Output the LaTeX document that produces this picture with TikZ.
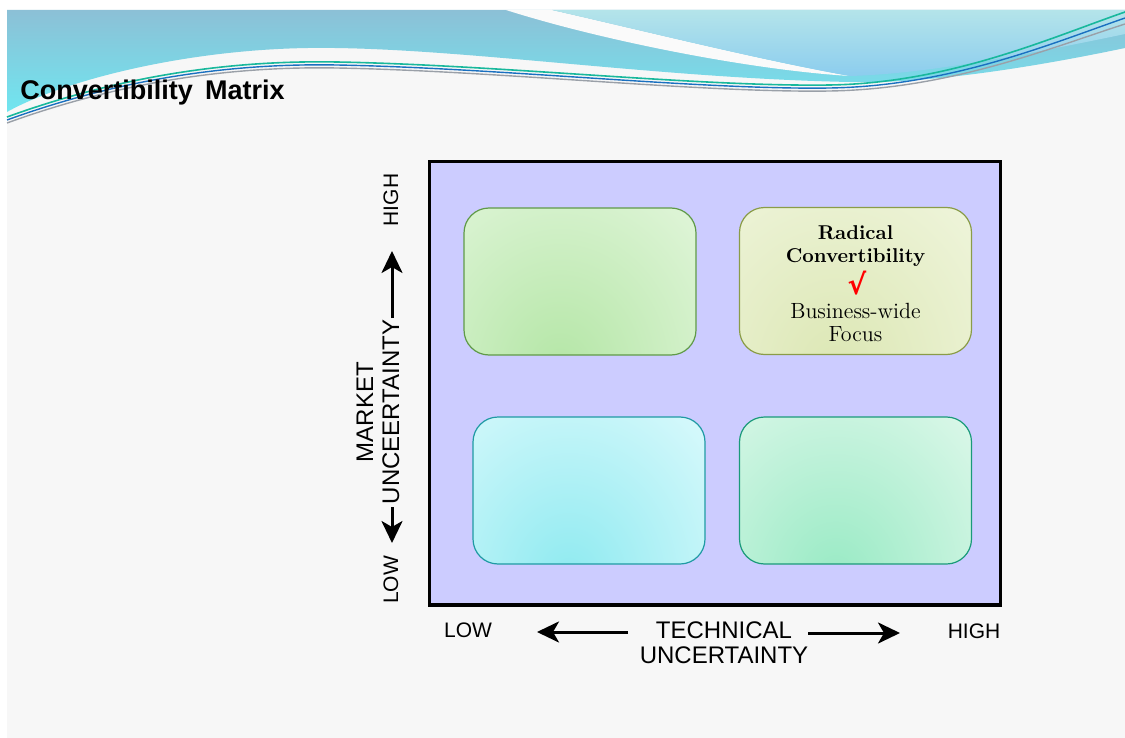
\documentclass[tikz,border=0pt]{standalone}
\usepackage{fontspec}
\newfontfamily\arialfont{Liberation Sans}
\newfontfamily\symfont{DejaVu Sans}
\usetikzlibrary{arrows.meta,calc}

\definecolor{slidebg}{HTML}{F7F7F7}
\definecolor{hdrtop}{HTML}{8CC0D6}
\definecolor{hdrbot}{HTML}{70E6F0}
\definecolor{lighttop}{HTML}{B4E4EA}
\definecolor{lightbot}{HTML}{8CCDEE}
\definecolor{swteal}{HTML}{18B89C}
\definecolor{swblue}{HTML}{1A70C0}
\definecolor{swgray}{HTML}{9AA0A8}
\definecolor{matfill}{HTML}{CCCCFF}
% quadrant colours: border, edge fill, centre fill
\definecolor{tlline}{HTML}{5F9A48}\definecolor{tledge}{HTML}{E8F8E2}\definecolor{tlcore}{HTML}{B4E6A6}
\definecolor{trline}{HTML}{8A9C48}\definecolor{tredge}{HTML}{F2F7E2}\definecolor{trcore}{HTML}{DCE7B4}
\definecolor{blline}{HTML}{1F9AA4}\definecolor{bledge}{HTML}{E6FCFE}\definecolor{blcore}{HTML}{8EEAF0}
\definecolor{brline}{HTML}{1A9A7A}\definecolor{bredge}{HTML}{E8FAF0}\definecolor{brcore}{HTML}{98EAC4}

\tikzset{
  quad/.style n args={3}{draw=#1, line width=0.6pt, rounded corners=12.5pt,
    minimum width=116pt, minimum height=73.5pt, inner sep=0pt, fill=#2,
    path picture={\shade[inner color=#3, outer color=#2]
      ($(path picture bounding box.south)+(-10pt,-8pt)$) ellipse (115pt and 135pt);}},
  axislabel/.style={font=\arialfont\fontsize{10.5}{12}\selectfont, inner sep=0pt},
  axisname/.style={font=\arialfont\fontsize{12}{13}\selectfont, inner sep=0pt, align=center},
  axisarrow/.style={line width=1.5pt, -{Stealth[length=11pt,width=10.5pt,inset=3pt]}},
  boxbold/.style={font=\bfseries\fontsize{10}{12}\selectfont, anchor=base, inner sep=0pt},
  boxtext/.style={font=\fontsize{11}{13}\selectfont, anchor=base, inner sep=0pt},
}

\begin{document}
\begin{tikzpicture}[x=0.5pt,y=-0.5pt]
\useasboundingbox (0,0) rectangle (1125,738);
\fill[white] (0,0) rectangle (1125,738);
\fill[slidebg] (7,10) rectangle (1125,738);

% header band
\shade[top color=hdrtop, bottom color=hdrbot]
  (7,10) -- (1125,10) -- (1125,48)
  .. controls (1020,70) and (920,84) .. (850,82)
  .. controls (650,78) and (450,46) .. (308,48)
  .. controls (180,50) and (60,82) .. (7,112) -- cycle;
\fill[slidebg!60!white]
  (506,10) .. controls (600,40) and (750,70) .. (850,76)
  .. controls (760,60) and (640,30) .. (552,10) -- cycle;
\shade[top color=lighttop, bottom color=lightbot]
  (552,10) -- (1125,10) -- (1125,34)
  .. controls (1010,58) and (920,74) .. (850,76)
  .. controls (760,60) and (640,30) .. (552,10) -- cycle;
\draw[swgray, line width=0.7pt]
  (7,123) .. controls (120,82) and (230,66) .. (337,68)
  .. controls (500,71) and (700,93) .. (830,91)
  .. controls (950,89) and (1050,48) .. (1125,24);
\draw[swblue, line width=0.7pt]
  (7,120) .. controls (120,79) and (230,63) .. (337,65)
  .. controls (500,68) and (700,90) .. (830,88)
  .. controls (950,86) and (1050,44) .. (1125,18);
\draw[swteal, line width=0.8pt]
  (7,117) .. controls (120,76) and (230,60) .. (337,62)
  .. controls (500,65) and (700,87) .. (830,85)
  .. controls (950,83) and (1050,38) .. (1125,12);

\node[anchor=base west, inner sep=0pt, font=\arialfont\bfseries\fontsize{13.5}{15}\selectfont]
  (title) at (20,100) {Convertibility\hspace{0.45em}Matrix};

% matrix frame
\draw[line width=1.75pt, fill=matfill] (429.5,161.5) rectangle (1000.5,605);

% quadrants
\node[quad={tlline}{tledge}{tlcore}] (tl) at (580,281.5) {};
\node[quad={trline}{tredge}{trcore}] (tr) at (855.5,281) {};
\node[quad={blline}{bledge}{blcore}] (bl) at (589,490.5) {};
\node[quad={brline}{bredge}{brcore}] (br) at (855.5,490.5) {};

\node[boxbold] (rad) at (855.5,239) {Radical};
\node[boxbold] (conv) at (855.5,262) {Convertibility};
\node[text=red, inner sep=0pt, font=\symfont\bfseries\fontsize{14}{14}\selectfont] (tick) at (857,283) {√};
\node[boxtext] (biz) at (855.5,318) {Business-wide};
\node[boxtext] (focus) at (855.5,341) {Focus};

% vertical axis
\node[axislabel, rotate=90] (yhigh) at (391,200) {HIGH};
\node[axislabel, rotate=90] (ylow) at (391,580) {LOW};
\node[axisname, rotate=90] (yname) at (378,412) {MARKET\\UNCEERTAINTY};
\coordinate (yupfrom) at (392,318);
\coordinate (yup) at (392,251);
\coordinate (ydownfrom) at (392,507);
\coordinate (ydown) at (392,543);
\draw[axisarrow] (yupfrom) -- (yup);
\draw[axisarrow] (ydownfrom) -- (ydown);

% horizontal axis
\node[axislabel] (xlow) at (468,630) {LOW};
\node[axislabel] (xhigh) at (974,631) {HIGH};
\node[axisname, font=\arialfont\fontsize{12}{12.5}\selectfont] (xname) at (724,643) {TECHNICAL\\UNCERTAINTY};
\coordinate (xleftfrom) at (628,632);
\coordinate (xleft) at (537,632);
\coordinate (xrightfrom) at (808,633);
\coordinate (xright) at (900,633);
\draw[axisarrow] (xleftfrom) -- (xleft);
\draw[axisarrow] (xrightfrom) -- (xright);
\end{tikzpicture}
\end{document}
